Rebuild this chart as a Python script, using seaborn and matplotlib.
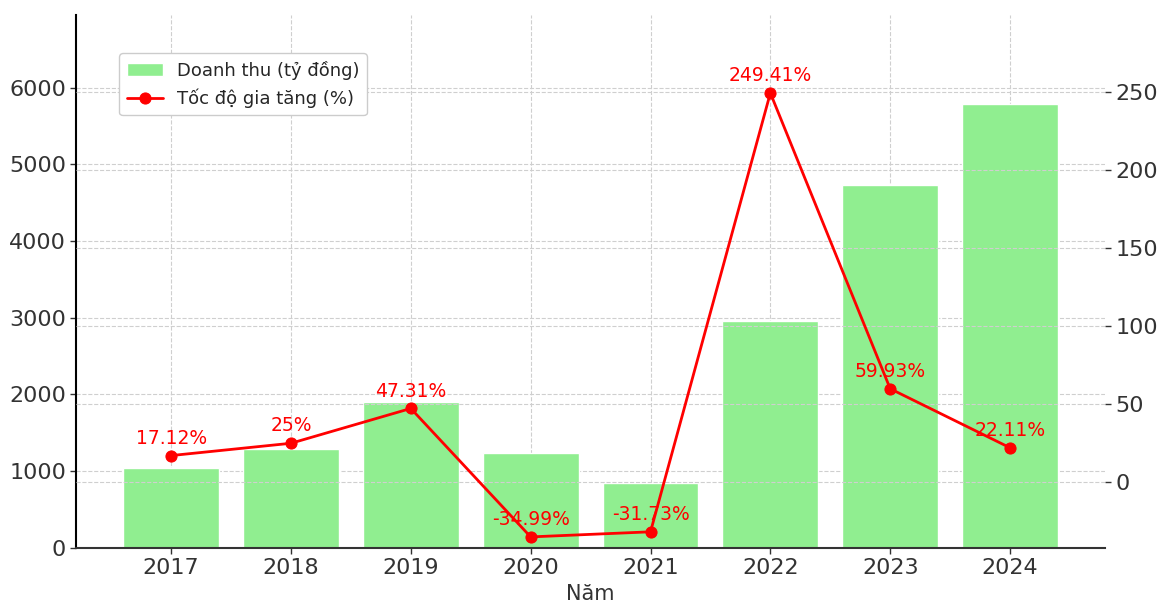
import numpy as np
import pandas as pd
import matplotlib
matplotlib.use("Agg")
import matplotlib.pyplot as plt
import seaborn as sns

years = ["2017", "2018", "2019", "2020", "2021", "2022", "2023", "2024"]
revenue = [1040, 1295, 1905, 1240, 845, 2955, 4735, 5790]
growth = [17.12, 25, 47.31, -34.99, -31.73, 249.41, 59.93, 22.11]
growth_labels = ["17.12%", "25%", "47.31%", "-34.99%", "-31.73%", "249.41%", "59.93%", "22.11%"]

df = pd.DataFrame({"Năm": years, "Doanh thu": revenue, "Tăng": growth})

sns.set_theme(style="whitegrid")
plt.rcParams['font.family'] = ['DejaVu Sans']

fig = plt.figure(figsize=(11.58, 6.06), dpi=100)
ax1 = fig.add_subplot(111)
fig.subplots_adjust(left=0.066, right=0.954, top=0.975, bottom=0.096)

# bars for revenue
sns.barplot(data=df, x="Năm", y="Doanh thu", color="#90EE90", saturation=1,
            width=0.8, ax=ax1, label="Doanh thu (tỷ đồng)", zorder=2)
ax1.set_ylim(0, max(revenue) * 1.2)
ax1.set_xlim(-0.79, 7.79)
ax1.set_ylabel("")
ax1.set_xlabel("Năm", fontsize=15, color="#333333")

# growth line on a second axis
ax2 = ax1.twinx()
xpos = np.arange(len(years))
sns.lineplot(x=xpos, y=growth, color="red", marker="o", markersize=8,
             markeredgecolor="red", linewidth=2, ax=ax2, label="Tốc độ gia tăng (%)")
ax2.set_ylim(min(growth) * 1.2, max(growth) * 1.2)
ax2.set_xlim(-0.79, 7.79)
for x, y, t in zip(xpos, growth, growth_labels):
    ax2.text(x, y + 5, t, ha="center", va="bottom", color="red", fontsize=13.5)

# grids, spines, ticks
for ax in (ax1, ax2):
    ax.grid(True, linestyle="--", linewidth=0.8, color="#cfcfcf")
    for s in ax.spines.values():
        s.set_visible(False)
    ax.tick_params(axis="both", labelsize=16, colors="#333333", length=4, width=1, direction="out")
ax2.grid(axis="x", visible=True, alpha=0.6)
ax1.spines["left"].set_visible(True)
ax1.spines["left"].set_color("black")
ax1.spines["left"].set_linewidth(1.5)
ax1.spines["bottom"].set_visible(True)
ax1.spines["bottom"].set_color("#333333")
ax1.spines["bottom"].set_linewidth(1.5)
ax1.tick_params(axis="x", bottom=True)
ax1.tick_params(axis="y", left=True)
ax2.tick_params(axis="y", right=True)
ax2.set_yticks([0, 50, 100, 150, 200, 250])
ax1.set_yticks([0, 1000, 2000, 3000, 4000, 5000, 6000])

# combined legend
h1, l1 = ax1.get_legend_handles_labels()
h2, l2 = ax2.get_legend_handles_labels()
if ax2.get_legend():
    ax2.get_legend().remove()
if ax1.get_legend():
    ax1.get_legend().remove()
ax2.legend(h1 + h2, l1 + l2, loc="upper left", bbox_to_anchor=(0.033, 0.945),
           fontsize=13, frameon=True, edgecolor="#cccccc", framealpha=1)

fig.savefig("out.png", dpi=100)
